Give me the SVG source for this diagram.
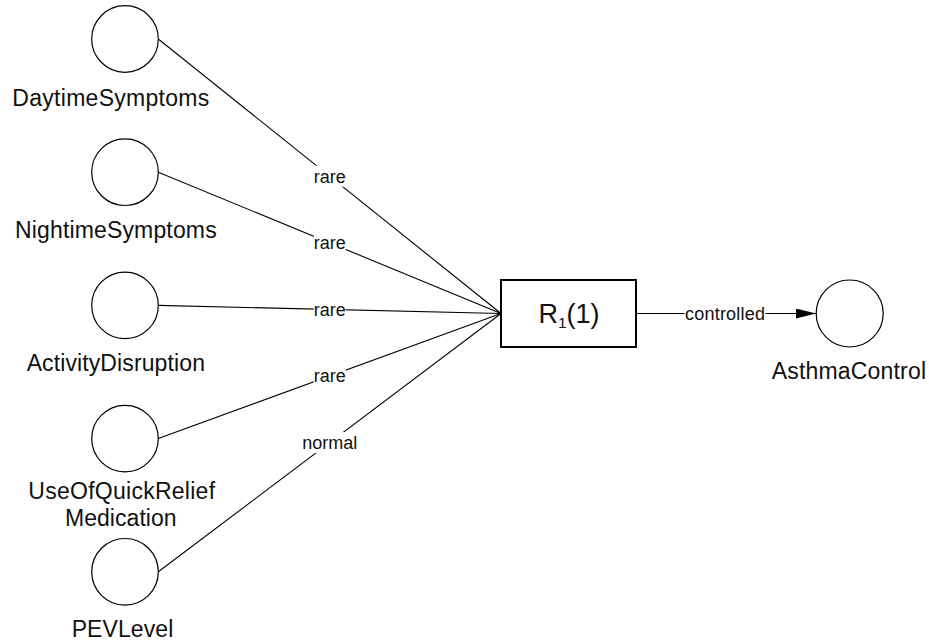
<svg xmlns="http://www.w3.org/2000/svg" width="929" height="643" viewBox="0 0 929 643">
  <style>
    .node { fill: #ffffff; stroke: #000000; stroke-width: 1.2; }
    .rule { fill: #ffffff; stroke: #000000; stroke-width: 2; }
    .edge { fill: none; stroke: #000000; stroke-width: 1.1; }
    .lbl { font-family: "Liberation Sans", Arial, sans-serif; font-size: 23px; fill: #111111; text-anchor: middle; }
    .elbl { font-family: "Liberation Sans", Arial, sans-serif; font-size: 18px; fill: #111111; text-anchor: middle; }
    .rlbl { font-family: "Liberation Sans", Arial, sans-serif; font-size: 27px; fill: #111111; text-anchor: middle; }
    .bg { fill: #ffffff; stroke: none; }
  </style>
  <defs>
    <marker id="arrow" viewBox="0 0 20 10" refX="20" refY="5" markerWidth="20" markerHeight="10" markerUnits="userSpaceOnUse" orient="auto">
      <path d="M0,0 L20,5 L0,10 Z" fill="#000000"/>
    </marker>
  </defs>

  <rect width="929" height="643" fill="#ffffff"/>

  <!-- connectors: each input joins the rule box at its left middle -->
  <g id="connectors">
    <line class="edge" x1="158.3" y1="39" x2="501" y2="313.5"/>
    <line class="edge" x1="158.3" y1="172.2" x2="501" y2="313.5"/>
    <line class="edge" x1="158.3" y1="305.4" x2="501" y2="313.5"/>
    <line class="edge" x1="158.3" y1="438.6" x2="501" y2="313.5"/>
    <line class="edge" x1="158.3" y1="571.8" x2="501" y2="313.5"/>
    <line class="edge" x1="636" y1="313.5" x2="816" y2="313.5" marker-end="url(#arrow)"/>

    <g id="edge-labels">
      <rect class="bg" x="313.7" y="165.7" width="32" height="21"/>
      <text class="elbl" x="329.7" y="182.5">rare</text>
      <rect class="bg" x="313.7" y="232.3" width="32" height="21"/>
      <text class="elbl" x="329.7" y="249.1">rare</text>
      <rect class="bg" x="313.7" y="298.9" width="32" height="21"/>
      <text class="elbl" x="329.7" y="315.7">rare</text>
      <rect class="bg" x="313.7" y="365.5" width="32" height="21"/>
      <text class="elbl" x="329.7" y="382.3">rare</text>
      <rect class="bg" x="302.2" y="432.1" width="55" height="21"/>
      <text class="elbl" x="329.7" y="448.9">normal</text>
      <rect class="bg" x="684.5" y="303" width="81" height="21"/>
      <text class="elbl" x="725" y="319.8" textLength="80" lengthAdjust="spacing">controlled</text>
    </g>
  </g>

  <g id="DaytimeSymptoms">
    <circle class="node" cx="125" cy="39" r="33.3"/>
    <text class="lbl" x="110.8" y="105.5" textLength="197" lengthAdjust="spacing">DaytimeSymptoms</text>
  </g>

  <g id="NightimeSymptoms">
    <circle class="node" cx="125" cy="172.2" r="33.3"/>
    <text class="lbl" x="115.8" y="237.5" textLength="201.7" lengthAdjust="spacing">NightimeSymptoms</text>
  </g>

  <g id="ActivityDisruption">
    <circle class="node" cx="125" cy="305.4" r="33.3"/>
    <text class="lbl" x="115.8" y="371" textLength="178.3" lengthAdjust="spacing">ActivityDisruption</text>
  </g>

  <g id="UseOfQuickReliefMedication">
    <circle class="node" cx="125" cy="438.6" r="33.3"/>
    <text class="lbl" x="121.7" y="499" textLength="186.7" lengthAdjust="spacing">UseOfQuickRelief</text>
    <text class="lbl" x="120.8" y="526" textLength="111.7" lengthAdjust="spacing">Medication</text>
  </g>

  <g id="PEVLevel">
    <circle class="node" cx="125" cy="571.8" r="33.3"/>
    <text class="lbl" x="122.5" y="636.5" textLength="101.6" lengthAdjust="spacing">PEVLevel</text>
  </g>

  <g id="R1">
    <rect class="rule" x="501" y="280" width="135" height="67"/>
    <text class="rlbl" x="569" y="323">R<tspan font-size="15.5" dy="5">1</tspan><tspan dy="-5">(1)</tspan></text>
  </g>

  <g id="AsthmaControl">
    <circle class="node" cx="849.7" cy="313.5" r="33.5"/>
    <text class="lbl" x="848.9" y="379" textLength="154.3" lengthAdjust="spacing">AsthmaControl</text>
  </g>
</svg>
